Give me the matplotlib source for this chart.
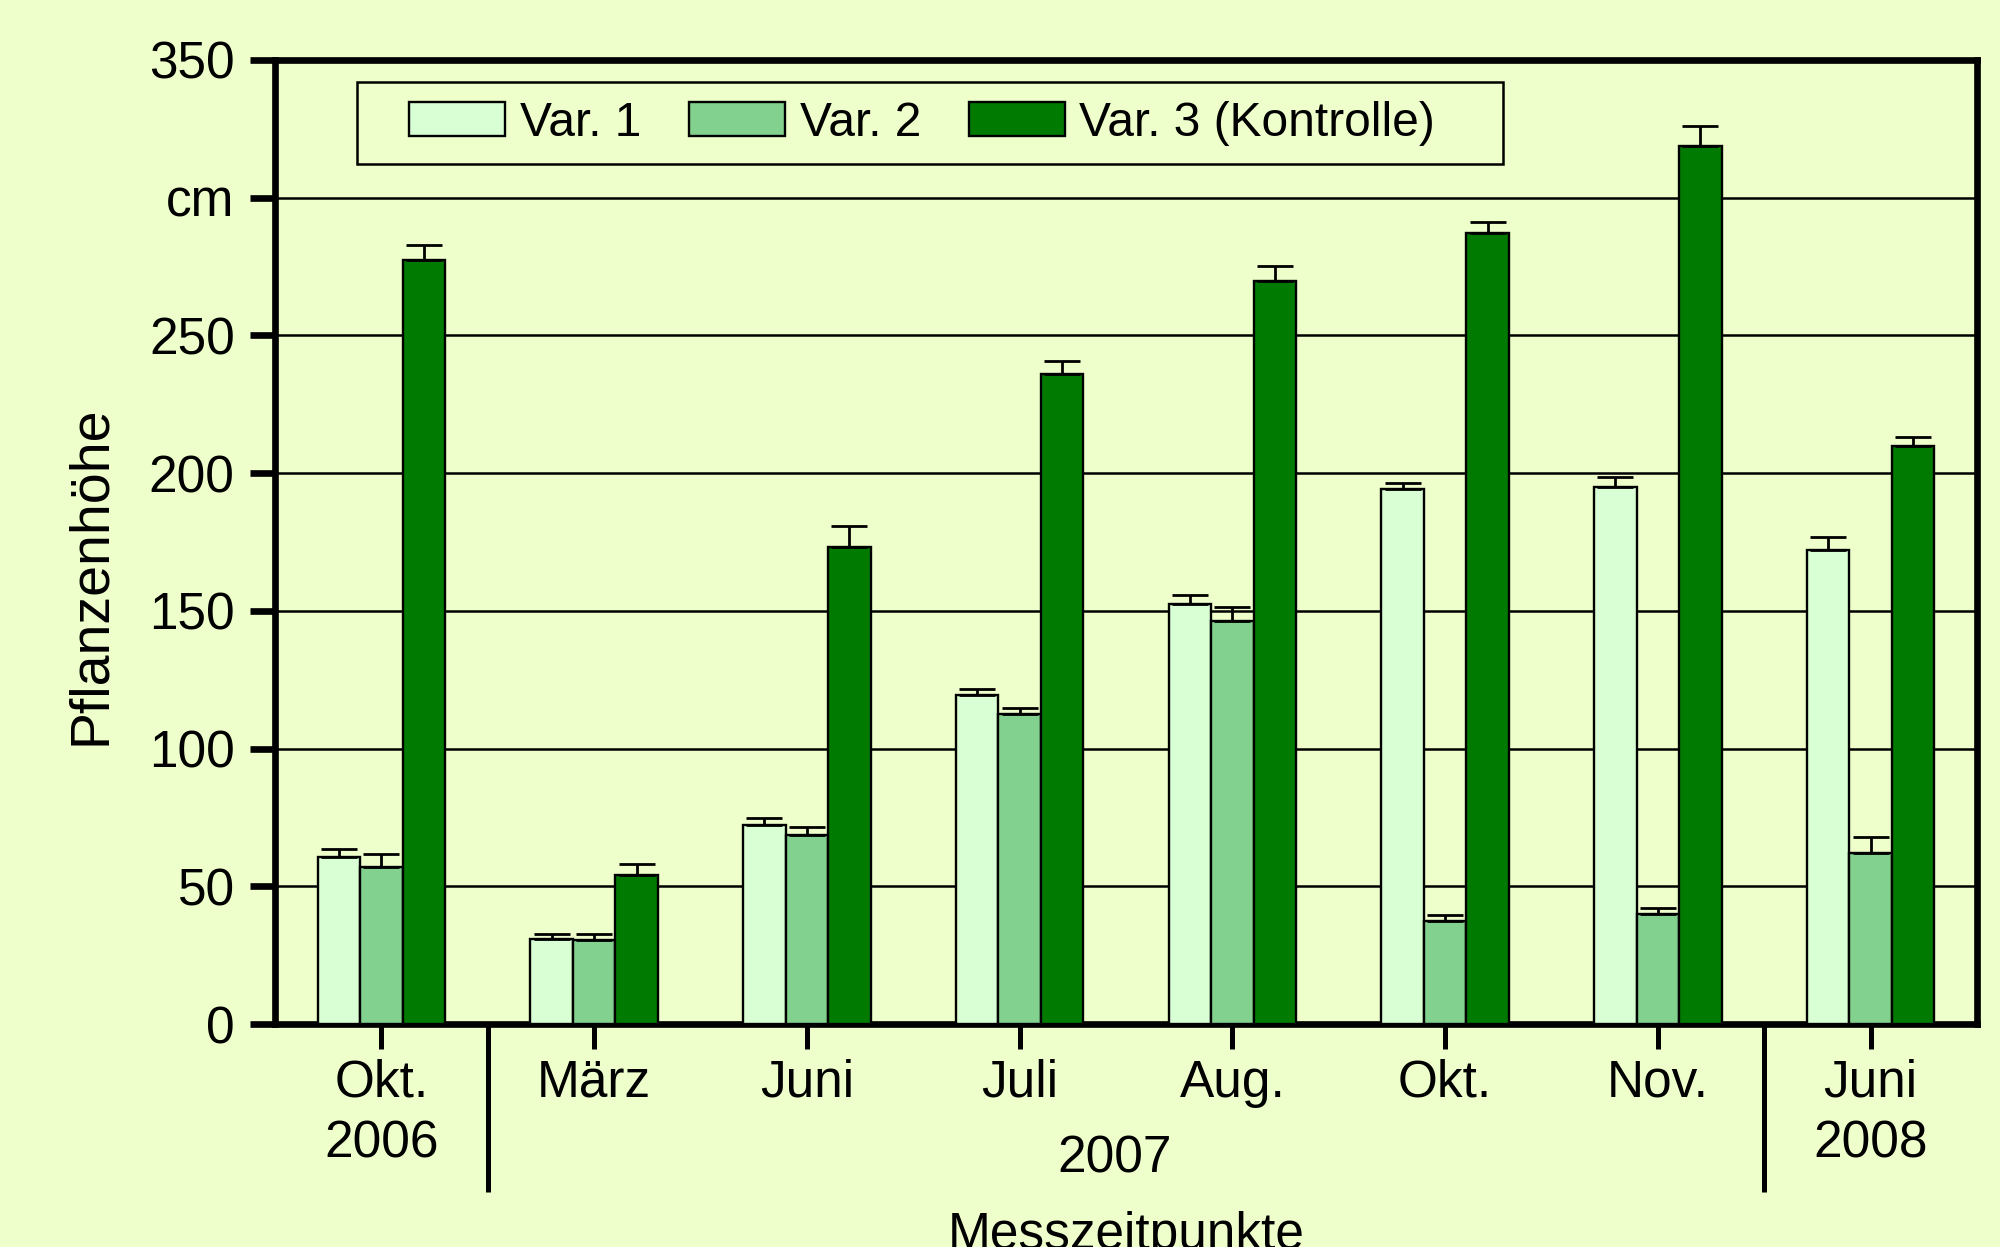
import matplotlib
matplotlib.use("Agg")
import matplotlib.pyplot as plt
import numpy as np
from matplotlib.patches import Rectangle

plt.rcParams["font.family"] = ["Liberation Sans", "DejaVu Sans"]
plt.rcParams["font.size"] = 37

# Messzeitpunkte (Gruppen)
zeitpunkte = ["Okt.\n2006", "März", "Juni", "Juli", "Aug.", "Okt.", "Nov.", "Juni\n2008"]

# Pflanzenhoehe in cm, Mittelwerte und Fehler (nur nach oben)
var1 = [60.8, 30.8, 72.3, 119.6, 152.5, 194.3, 194.8, 172.0]
var1_fehler = [2.8, 2.0, 2.4, 2.2, 3.3, 2.1, 3.9, 4.9]
var2 = [57.1, 30.5, 68.6, 112.5, 146.5, 37.5, 39.8, 62.1]
var2_fehler = [4.6, 2.3, 3.1, 2.4, 4.8, 2.1, 2.2, 5.8]
var3 = [277.4, 54.2, 173.2, 236.0, 269.8, 287.3, 318.6, 209.8]
var3_fehler = [5.4, 3.8, 7.5, 4.7, 5.3, 4.0, 7.3, 3.3]

namen = ["Var. 1", "Var. 2", "Var. 3 (Kontrolle)"]

y_ticks = [0, 50, 100, 150, 200, 250, 300, 350]
y_labels = ["0", "50", "100", "150", "200", "250", "cm", "350"]
trenner = [0.5, 6.5]  # Jahresgrenzen

COLOR_FONDO = "#EFFFCC"
COLORES = ["#D9FFD4", "#82D18E", "#007A00"]

fig = plt.figure(figsize=(20, 12.47), dpi=100, facecolor=COLOR_FONDO)
ax = fig.add_axes([0.1375, 0.1788, 0.851, 0.7731])
ax.set_facecolor(COLOR_FONDO)

x = np.arange(len(zeitpunkte))
ancho = 0.2
series = [(var1, var1_fehler), (var2, var2_fehler), (var3, var3_fehler)]
for i, (werte, fehler) in enumerate(series):
    pos = x + (i - 1) * ancho
    ax.bar(pos, werte, ancho, color=COLORES[i], edgecolor="black", linewidth=1.7,
           label=namen[i], zorder=3)
    ax.errorbar(pos, werte, yerr=[np.zeros(len(fehler)), fehler], fmt="none",
                ecolor="black", elinewidth=2, capsize=13, capthick=2, zorder=4)

ax.set_xlim(-0.5, len(zeitpunkte) - 0.5)
ax.set_ylim(0, 350)
ax.set_yticks(y_ticks)
ax.set_yticklabels(y_labels)
ax.set_xticks(x)
ax.set_xticklabels(zeitpunkte, linespacing=1.3)
ax.set_xticks(trenner, minor=True)

ax.tick_params(axis="y", direction="out", length=18, width=4.8, pad=11)
ax.tick_params(axis="x", which="major", direction="out", length=18, width=3.6, pad=7)
ax.tick_params(axis="x", which="minor", direction="out", length=121, width=3.6)

for lado in ["left", "right", "top", "bottom"]:
    ax.spines[lado].set_linewidth(4.8)

ax.yaxis.grid(True, color="black", linewidth=1.8, zorder=0)
ax.set_axisbelow(True)

ax.text(0.4935, -0.1535, "2007", transform=ax.transAxes, ha="center", va="baseline")

ax.set_ylabel("Pflanzenhöhe", va="bottom", fontsize=40)
ax.yaxis.set_label_coords(-0.0928, 0.4660)
ax.set_xlabel("Messzeitpunkte", va="baseline")
ax.xaxis.set_label_coords(0.5, -0.2334)

# Legende mit eigenem Rahmen
rahmen = Rectangle((0.048, 0.892), 0.6735, 0.085, transform=ax.transAxes,
                   facecolor=COLOR_FONDO, edgecolor="black", linewidth=1.8, zorder=5)
ax.add_patch(rahmen)
ax.legend(loc="center left", bbox_to_anchor=(0.0787, 0.9345), ncol=3, frameon=False,
          fontsize=34.5, borderpad=0, borderaxespad=0, handlelength=2.0,
          handleheight=0.73, handletextpad=0.31, columnspacing=1.0)
ax.get_legend().set_zorder(6)

fig.savefig("out.png", dpi=100, facecolor=COLOR_FONDO)
